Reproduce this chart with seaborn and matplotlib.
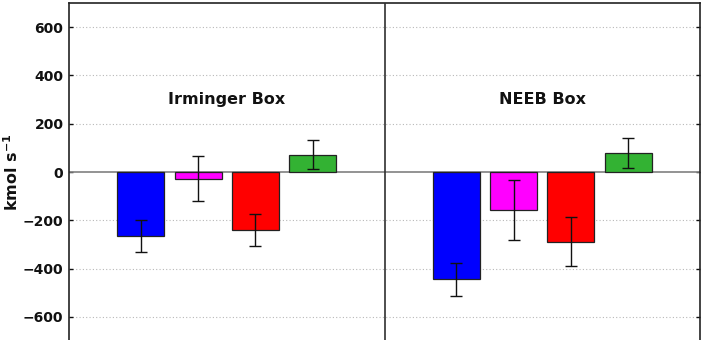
import matplotlib
matplotlib.use("Agg")
import matplotlib.pyplot as plt
import seaborn as sns
import pandas as pd
import numpy as np

# Data
boxes = ["Irminger Box", "NEEB Box"]
components = ["c1", "c2", "c3", "c4"]
irminger_vals = [-266, -28, -240, 72]
irminger_err = [66, 93, 66, 60]
neeb_vals = [-445, -159, -288, 78]
neeb_err = [70, 124, 103, 61]
colors = ["#0000ff", "#ff00ff", "#ff0000", "#33b233"]
yticks = [-600, -400, -200, 0, 200, 400, 600]

sns.set_theme(style="white")
plt.rcParams['font.family'] = ['DejaVu Sans']
plt.rcParams['text.color'] = '#111111'
plt.rcParams['axes.labelcolor'] = '#111111'
plt.rcParams['ytick.color'] = '#111111'
plt.rcParams['mathtext.default'] = 'bf'

xpos = [1.25, 2.25, 3.25, 4.25, 6.75, 7.75, 8.75, 9.75]
df = pd.DataFrame({
    "x": xpos,
    "val": irminger_vals + neeb_vals,
    "err": irminger_err + neeb_err,
    "comp": components * 2,
})

fig = plt.figure(figsize=(7.11, 3.40), dpi=100)
ax = fig.add_axes([69/711, -1/340, 631/711, 338/340])

ax.set_xlim(0, 11)
ax.set_ylim(-700, 700)

# grid
for t in yticks:
    if t != 0:
        ax.axhline(t, color="#b8b8b8", linestyle=(0, (1, 2)), linewidth=0.8, zorder=0)

sns.barplot(data=df, x="x", y="val", hue="comp", palette=colors, native_scale=True,
            width=0.82, dodge=False, errorbar=None, edgecolor="#222222", linewidth=0.9,
            saturation=1, legend=False, ax=ax, zorder=2)

ax.axhline(0, color="#808080", linewidth=1.2, zorder=1.5)
ax.axvline(5.5, color="#303030", linewidth=1.2, zorder=3)

ax.errorbar(df["x"], df["val"], yerr=df["err"], fmt="none", ecolor="#111111",
            elinewidth=1.0, capsize=4, capthick=1.0, zorder=4)

ax.text(2.75, 300, boxes[0], ha="center", va="center", fontsize=11.5, fontweight="bold")
ax.text(8.25, 300, boxes[1], ha="center", va="center", fontsize=11.5, fontweight="bold")

ax.set_xticks([])
ax.set_yticks(yticks)
ax.set_yticklabels([str(t).replace("-", "\u2212") for t in yticks], fontsize=10, fontweight="bold")
ax.tick_params(axis="y", direction="in", length=3, width=1, right=True, left=True, pad=4)
ax.set_xlabel("")
ax.set_ylabel("kmol s$^{-1}$", fontsize=11.5, fontweight="bold")
ax.yaxis.set_label_coords(-0.076, 0.5)
for s in ax.spines.values():
    s.set_color("#222222")
    s.set_linewidth(1.2)

fig.savefig("out.png", dpi=100)
